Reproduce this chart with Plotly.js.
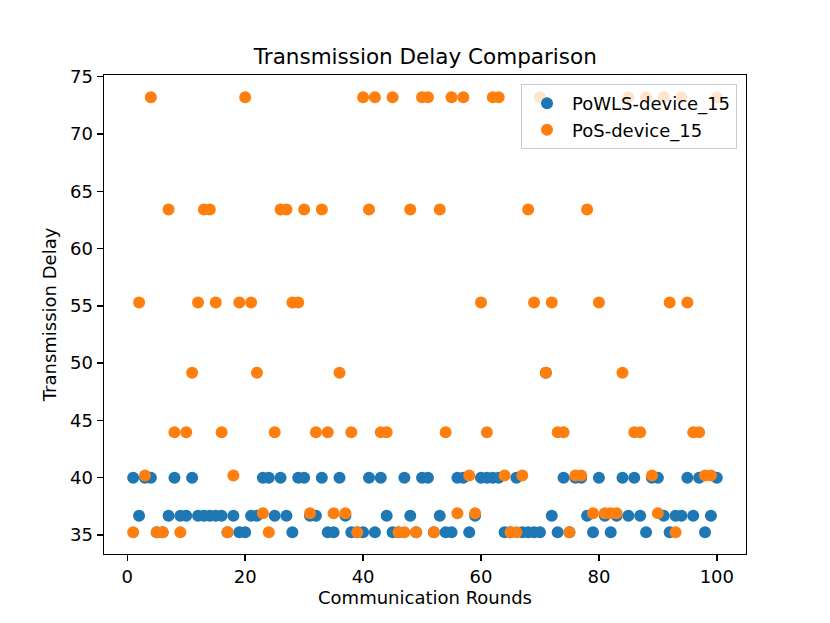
<!DOCTYPE html>
<html>
<head>
<meta charset="utf-8">
<script src="https://cdn.plot.ly/plotly-3.0.1.min.js"></script>
<style>
  html, body { margin: 0; padding: 0; background: #fff; }
  #chart { width: 830px; height: 623px; }
</style>
</head>
<body>
<div id="chart"></div>
<script>
// communication rounds (x)
var rounds = [
  1, 2, 3, 4, 5, 6, 7, 8, 9, 10,
  11, 12, 13, 14, 15, 16, 17, 18, 19, 20,
  21, 22, 23, 24, 25, 26, 27, 28, 29, 30,
  31, 32, 33, 34, 35, 36, 37, 38, 39, 40,
  41, 42, 43, 44, 45, 46, 47, 48, 49, 50,
  51, 52, 53, 54, 55, 56, 57, 58, 59, 60,
  61, 62, 63, 64, 65, 66, 67, 68, 69, 70,
  71, 72, 73, 74, 75, 76, 77, 78, 79, 80,
  81, 82, 83, 84, 85, 86, 87, 88, 89, 90,
  91, 92, 93, 94, 95, 96, 97, 98, 99, 100
];

// PoWLS-device_15 delays
var powlsDelay = [
  40.0, 36.67, 40.0, 40.0, 35.24, 35.24, 36.67, 40.0, 36.67, 36.67,
  40.0, 36.67, 36.67, 36.67, 36.67, 36.67, 35.24, 36.67, 35.24, 35.24,
  36.67, 36.67, 40.0, 40.0, 36.67, 40.0, 36.67, 35.24, 40.0, 40.0,
  36.67, 36.67, 40.0, 35.24, 35.24, 40.0, 36.67, 35.24, 35.24, 35.24,
  40.0, 35.24, 40.0, 36.67, 35.24, 35.24, 40.0, 36.67, 35.24, 40.0,
  40.0, 35.24, 36.67, 35.24, 35.24, 40.0, 40.0, 35.24, 36.67, 40.0,
  40.0, 40.0, 40.0, 35.24, 35.24, 40.0, 35.24, 35.24, 35.24, 35.24,
  49.17, 36.67, 35.24, 40.0, 35.24, 40.0, 40.0, 36.67, 35.24, 40.0,
  36.67, 35.24, 36.67, 40.0, 36.67, 40.0, 36.67, 35.24, 40.0, 40.0,
  36.67, 35.24, 36.67, 36.67, 40.0, 36.67, 40.0, 35.24, 36.67, 40.0
];

// PoS-device_15 delays
var posDelay = [
  35.24, 55.3, 40.2, 73.2, 35.24, 35.24, 63.4, 43.97, 35.24, 43.97,
  49.17, 55.3, 63.4, 63.4, 55.3, 43.97, 35.24, 40.2, 55.3, 73.2,
  55.3, 49.17, 36.9, 35.24, 43.97, 63.4, 63.4, 55.3, 55.3, 63.4,
  36.9, 43.97, 63.4, 43.97, 36.9, 49.17, 36.9, 43.97, 35.24, 73.2,
  63.4, 73.2, 43.97, 43.97, 73.2, 35.24, 35.24, 63.4, 35.24, 73.2,
  73.2, 35.24, 63.4, 43.97, 73.2, 36.9, 73.2, 40.2, 36.9, 55.3,
  43.97, 73.2, 73.2, 40.2, 35.24, 35.24, 40.2, 63.4, 55.3, 73.2,
  49.17, 55.3, 43.97, 43.97, 35.24, 40.2, 40.2, 63.4, 36.9, 55.3,
  36.9, 36.9, 36.9, 49.17, 73.2, 43.97, 43.97, 73.2, 40.2, 36.9,
  73.2, 55.3, 35.24, 73.2, 55.3, 43.97, 43.97, 40.2, 40.2, 73.2
];

var xTicks = [0, 20, 40, 60, 80, 100];
var yTicks = [35, 40, 45, 50, 55, 60, 65, 70, 75];

var FONT = 'DejaVu Sans, sans-serif';

var powls = {
    x: rounds,
    y: powlsDelay,
    mode: 'markers',
    type: 'scatter',
    name: 'PoWLS-device_15',
    marker: {color: '#1f77b4', size: 12}
};

var pos = {
    x: rounds,
    y: posDelay,
    mode: 'markers',
    type: 'scatter',
    name: 'PoS-device_15',
    marker: {color: '#ff7f0e', size: 12}
};

// axis styling shared by both axes (matplotlib look)
function axisStyle(extra) {
    var base = {
        showline: true,
        linecolor: '#000',
        linewidth: 1.4,
        mirror: true,
        showgrid: false,
        zeroline: false,
        ticks: 'outside',
        ticklen: 6,
        tickwidth: 1.4,
        tickcolor: '#000',
        tickfont: {family: FONT, size: 18, color: '#000'},
        fixedrange: true
    };
    for (var k in extra) base[k] = extra[k];
    return base;
}

var layout = {
    width: 830,
    height: 623,
    paper_bgcolor: '#fff',
    plot_bgcolor: '#fff',
    margin: {l: 104, r: 84, t: 75, b: 69, pad: 0},
    title: {
        text: 'Transmission Delay Comparison',
        font: {family: FONT, size: 21.5, color: '#000'},
        x: 0.5124, xanchor: 'center',
        yref: 'container', y: 0.909, yanchor: 'middle'
    },
    xaxis: axisStyle({
        range: [-3.95, 104.95],
        tickvals: xTicks,
        title: {text: 'Communication Rounds', font: {family: FONT, size: 18, color: '#000'}, standoff: 4}
    }),
    yaxis: axisStyle({
        range: [33.34, 75.15],
        tickvals: yTicks,
        title: {text: 'Transmission Delay', font: {family: FONT, size: 18, color: '#000'}, standoff: 8}
    }),
    showlegend: true,
    legend: {
        x: 0.986, xanchor: 'right',
        y: 0.981, yanchor: 'top',
        bgcolor: 'rgba(255,255,255,0.8)',
        bordercolor: '#cccccc',
        borderwidth: 1,
        font: {family: FONT, size: 18, color: '#000'},
        itemwidth: 40
    }
};

Plotly.newPlot('chart', [powls, pos], layout, {staticPlot: true});
</script>
</body>
</html>
